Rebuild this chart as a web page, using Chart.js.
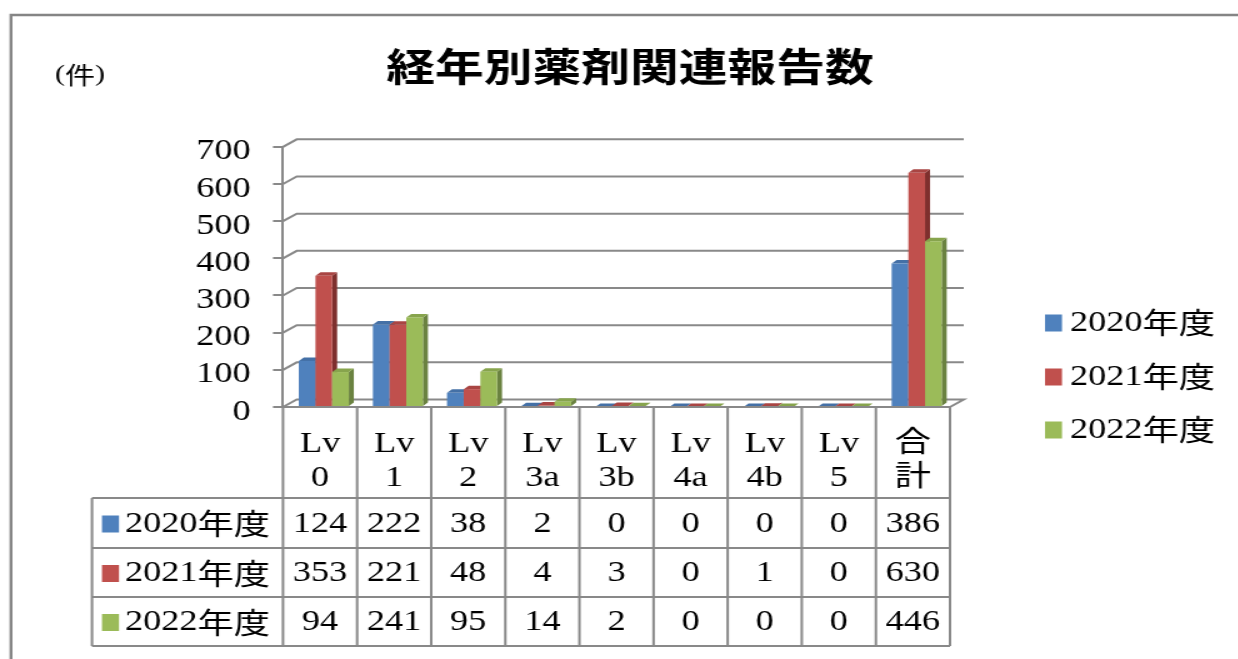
<!DOCTYPE html>
<html lang="ja">
<head>
<meta charset="utf-8">
<title>経年別薬剤関連報告数</title>
<script src="https://cdn.jsdelivr.net/npm/chart.js@4.4.1/dist/chart.umd.min.js"></script>
<style>
  html, body { margin: 0; padding: 0; background: #fff; overflow: hidden; }
  /* the chart is laid out narrow and widened, so the lettering comes out broad */
  #wrap { width: 990px; height: 659px; transform: scaleX(1.25); transform-origin: 0 0; }
</style>
</head>
<body>
<div id="wrap"><canvas id="chart"></canvas></div>
<script>
const categories = [['Lv', '0'], ['Lv', '1'], ['Lv', '2'], ['Lv', '3a'], ['Lv', '3b'], ['Lv', '4a'], ['Lv', '4b'], ['Lv', '5'], ['合', '計']];
const seriesNames = ['2020年度', '2021年度', '2022年度'];
const counts2020 = [124, 222, 38, 2, 0, 0, 0, 0, 386];
const counts2021 = [353, 221, 48, 4, 3, 0, 1, 0, 630];
const counts2022 = [94, 241, 95, 14, 2, 0, 0, 0, 446];
const yTicks = [0, 100, 200, 300, 400, 500, 600, 700];

const seriesValues = [counts2020, counts2021, counts2022];
const frontColors = ['#4F81BD', '#C0504D', '#9BBB59'];
const topColors = ['#4470A6', '#A94543', '#87A44D'];
const sideColors = ['#35598A', '#7E2F2D', '#6A8240'];

const LINE = '#898989';
const SERIF = '"Liberation Serif", serif';
const CJK = '"Noto Sans CJK JP", sans-serif';
const WALL = { x: 11, y: -7.5 };     // offset of back wall from the front plane
const BAR = { x: 4, y: -3.5 };       // depth of each column
const BAR_SHIFT = 3;

// table rows under the plot, and the legend block on the right
const tableRows = [498, 548, 597, 646];
const tableLeft = 73.6;
const legendX = 836;
const legendY = [323, 377, 430];

function poly(ctx, pts, color) {
    ctx.beginPath();
    ctx.moveTo(pts[0][0], pts[0][1]);
    for (let i = 1; i < pts.length; i++) ctx.lineTo(pts[i][0], pts[i][1]);
    ctx.closePath();
    ctx.fillStyle = color;
    ctx.fill();
}

// digits in the serif face, kanji in the CJK face
function mixedText(ctx, text, x, y, size) {
    const runs = text.match(/[0-9A-Za-z()]+|[^0-9A-Za-z()]+/g);
    runs.forEach(run => {
        ctx.font = size + 'px ' + (/[0-9A-Za-z()]/.test(run) ? SERIF : CJK);
        ctx.fillText(run, x, y);
        x += ctx.measureText(run).width;
    });
}

const framePlugin = {
    id: 'frame',
    beforeDraw(chart) {
        const ctx = chart.ctx;
        ctx.save();
        ctx.fillStyle = '#fff';
        ctx.fillRect(0, 0, chart.width, chart.height);
        ctx.strokeStyle = '#858585';
        ctx.lineWidth = 2.4;
        ctx.beginPath();
        ctx.moveTo(8.8, chart.height + 5);
        ctx.lineTo(8.8, 15);
        ctx.lineTo(chart.width + 5, 15);
        ctx.stroke();

        ctx.fillStyle = '#000';
        ctx.textBaseline = 'middle';
        ctx.textAlign = 'left';
        mixedText(ctx, '(件)', 44, 75, 24);
        ctx.restore();
    }
};

const wallsPlugin = {
    id: 'walls',
    beforeDatasetsDraw(chart) {
        const { ctx, chartArea: a, scales: { y } } = chart;
        ctx.save();
        ctx.strokeStyle = LINE;
        ctx.lineWidth = 2;
        yTicks.forEach(v => {
            const py = y.getPixelForValue(v);
            ctx.beginPath();
            ctx.moveTo(a.left, py);
            ctx.lineTo(a.left + WALL.x, py + WALL.y);
            ctx.lineTo(a.right + WALL.x, py + WALL.y);
            if (v === 0) ctx.lineTo(a.right, py);
            ctx.stroke();
        });
        ctx.restore();
    },
    // columns are painted below, front to back in series order
    beforeDatasetDraw() {
        return false;
    },
    afterDatasetsDraw(chart) {
        const ctx = chart.ctx;
        ctx.save();
        chart.data.datasets.forEach((ds, i) => {
            chart.getDatasetMeta(i).data.forEach(bar => {
                const l = bar.x - bar.width / 2 + BAR_SHIFT;
                const r = bar.x + bar.width / 2 + BAR_SHIFT;
                const t = bar.y, b = bar.base;
                poly(ctx, [[r, t], [r + BAR.x, t + BAR.y], [r + BAR.x, b + BAR.y], [r, b]], sideColors[i]);
                poly(ctx, [[l, t], [r, t], [r + BAR.x, t + BAR.y], [l + BAR.x, t + BAR.y]], topColors[i]);
                ctx.fillStyle = frontColors[i];
                ctx.fillRect(l, t, r - l, b - t);
            });
        });
        ctx.restore();
    }
};

const tablePlugin = {
    id: 'dataTable',
    afterDraw(chart) {
        const { ctx, chartArea: a, scales: { x } } = chart;
        const step = x.getPixelForValue(1) - x.getPixelForValue(0);
        const edges = categories.map((c, i) => x.getPixelForValue(i) - step / 2).concat(a.right);
        const last = tableRows[tableRows.length - 1];

        ctx.save();
        ctx.strokeStyle = LINE;
        ctx.lineWidth = 2;
        ctx.beginPath();
        ctx.moveTo(a.left, a.bottom);
        ctx.lineTo(a.right, a.bottom);
        tableRows.forEach(ry => {
            ctx.moveTo(tableLeft, ry);
            ctx.lineTo(a.right, ry);
        });
        edges.forEach(ex => {
            ctx.moveTo(ex, a.bottom);
            ctx.lineTo(ex, last);
        });
        ctx.moveTo(tableLeft, tableRows[0]);
        ctx.lineTo(tableLeft, last);
        ctx.stroke();

        ctx.textBaseline = 'middle';
        seriesValues.forEach((vals, r) => {
            const cy = (tableRows[r] + tableRows[r + 1]) / 2 + 1;
            ctx.fillStyle = frontColors[r];
            ctx.fillRect(tableLeft + 8, cy - 8.5, 13.6, 17);
            ctx.fillStyle = '#000';
            ctx.textAlign = 'left';
            mixedText(ctx, seriesNames[r], tableLeft + 26.4, cy, 29);
            ctx.textAlign = 'center';
            ctx.font = '29px ' + SERIF;
            vals.forEach((v, i) => ctx.fillText(String(v), x.getPixelForValue(i), cy));
        });

        // legend
        ctx.textAlign = 'left';
        seriesNames.forEach((name, r) => {
            ctx.fillStyle = frontColors[r];
            ctx.fillRect(legendX, legendY[r] - 8.5, 13.6, 17);
            ctx.fillStyle = '#000';
            mixedText(ctx, name, legendX + 20, legendY[r], 29);
        });
        ctx.restore();
    }
};

new Chart(document.getElementById('chart'), {
    type: 'bar',
    data: {
        labels: categories,
        datasets: seriesNames.map((name, i) => ({
            label: name,
            data: seriesValues[i],
            backgroundColor: frontColors[i],
            borderWidth: 0,
            categoryPercentage: 0.675,
            barPercentage: 1
        }))
    },
    options: {
        responsive: true,
        maintainAspectRatio: false,
        animation: false,
        layout: { padding: { left: 18, right: 0, top: 0, bottom: 0 } },
        plugins: {
            legend: { display: false },
            tooltip: { enabled: false },
            title: {
                display: true,
                text: '経年別薬剤関連報告数',
                color: '#000',
                font: { family: CJK, size: 39, weight: 'bold', lineHeight: 1.2 },
                padding: { top: 43, bottom: 57 }
            }
        },
        scales: {
            x: {
                offset: true,
                grid: { display: false, drawTicks: false },
                border: { display: false },
                ticks: {
                    color: '#000',
                    font: { family: '"Liberation Serif", "Noto Sans CJK JP", serif', size: 29, lineHeight: 1.15 },
                    padding: 21,
                    maxRotation: 0,
                    autoSkip: false
                },
                afterFit(s) { s.height = 252; }
            },
            y: {
                position: 'left',
                min: 0,
                max: 700,
                afterBuildTicks(s) { s.ticks = yTicks.map(v => ({ value: v })); },
                grid: { drawOnChartArea: false, drawTicks: true, tickLength: 8, color: LINE, lineWidth: 2 },
                border: { display: true, color: LINE, width: 2 },
                ticks: {
                    color: '#000',
                    font: { family: SERIF, size: 29 },
                    padding: 18,
                    labelOffset: 5,
                    autoSkip: false
                },
                afterFit(s) { s.width = 208.4; }
            },
            legendSpace: {
                type: 'linear',
                axis: 'y',
                position: 'right',
                grid: { display: false, drawTicks: false },
                border: { display: false },
                ticks: { display: false },
                afterFit(s) { s.width = 230; }
            }
        }
    },
    plugins: [framePlugin, wallsPlugin, tablePlugin]
});
</script>
</body>
</html>
